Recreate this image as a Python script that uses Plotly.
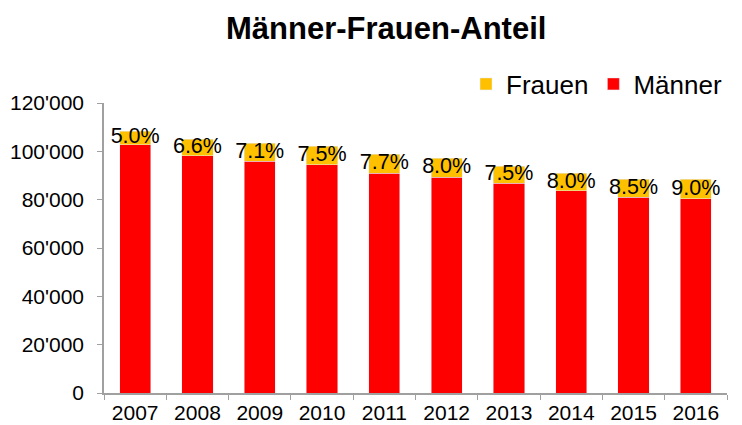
import plotly.graph_objects as go

years = ["2007", "2008", "2009", "2010", "2011", "2012", "2013", "2014", "2015", "2016"]
maenner = [102800, 98100, 96000, 94500, 90900, 89200, 86800, 83600, 81000, 80300]
frauen = [5500, 6900, 7300, 7700, 7900, 7900, 7100, 7300, 7500, 8100]
anteil = ["5.0%", "6.6%", "7.1%", "7.5%", "7.7%", "8.0%", "7.5%", "8.0%", "8.5%", "9.0%"]

FONT = "Liberation Sans, Arial, sans-serif"

fig = go.Figure()
fig.add_trace(go.Bar(x=years, y=maenner, name="Männer", marker_color="#FF0000"))
fig.add_trace(go.Bar(x=years, y=frauen, name="Frauen", marker_color="#FFC000"))

label_y = [m + f / 2 for m, f in zip(maenner, frauen)]
fig.add_trace(go.Scatter(x=years, y=label_y, text=anteil, mode="text",
                         textposition="middle center", showlegend=False, hoverinfo="skip",
                         textfont=dict(family=FONT, size=21.5, color="#000000")))

fig.update_layout(
    barmode="stack",
    bargap=0.5,
    width=742, height=425,
    margin=dict(l=104, r=15, t=103, b=32, autoexpand=False),
    paper_bgcolor="white", plot_bgcolor="white",
    separators=".'",
    font=dict(family=FONT, color="#000000"),
    title=dict(text="<b>Männer-Frauen-Anteil</b>", x=0.453, xanchor="center",
               xref="paper", y=1 - 28 / 425, yanchor="middle", yref="container",
               font=dict(family=FONT, size=31, color="#000000")),
    legend=dict(orientation="h", traceorder="reversed", x=1.0, xanchor="right",
                y=1 - 84 / 425, yref="container", yanchor="middle",
                font=dict(family=FONT, size=26, color="#000000"),
                bgcolor="rgba(0,0,0,0)", itemwidth=30),
    showlegend=True,
)
fig.update_yaxes(range=[0, 120000], tickvals=[0, 20000, 40000, 60000, 80000, 100000, 120000],
                 tickformat=",d", showgrid=False, zeroline=False,
                 showline=True, linecolor="#A0A0A0", linewidth=1.5,
                 ticks="outside", ticklen=5, tickcolor="#A0A0A0", ticklabelstandoff=9,
                 tickfont=dict(family=FONT, size=21, color="#000000"))
fig.update_xaxes(type="category", showgrid=False, showline=True, linecolor="#A0A0A0", linewidth=1.5,
                 ticks="outside", ticklen=5, tickcolor="#A0A0A0", tickson="boundaries",
                 tickangle=0,
                 tickfont=dict(family=FONT, size=21, color="#000000"))

fig.write_html("out.html")
